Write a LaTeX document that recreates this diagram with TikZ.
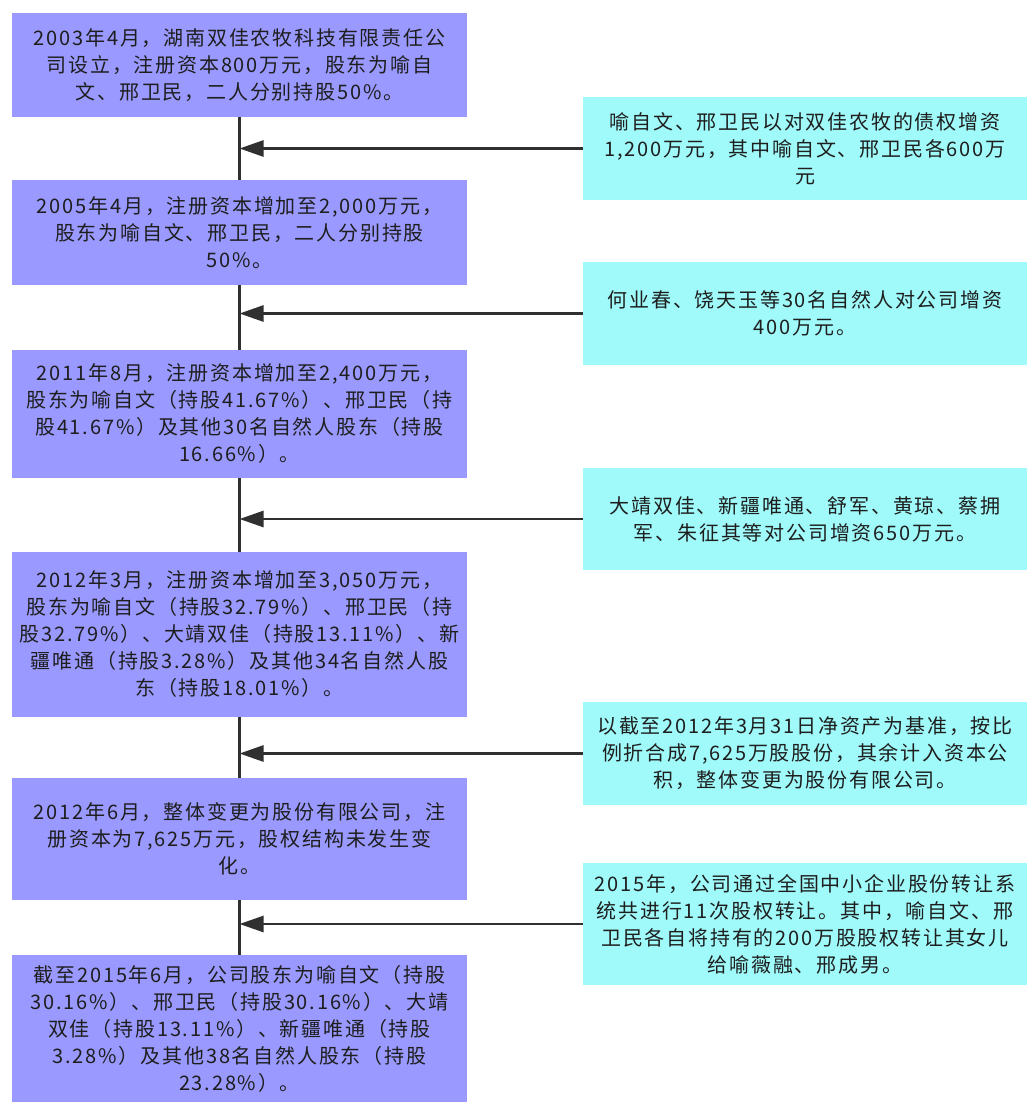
\documentclass[tikz,border=0pt]{standalone}
\usepackage{fontspec}
\usetikzlibrary{arrows.meta}
\newfontfamily\cjk[LetterSpace=9]{Noto Sans CJK SC}
\definecolor{leftfill}{RGB}{153,153,255}
\definecolor{rightfill}{RGB}{160,250,250}
\definecolor{linecol}{RGB}{48,48,48}
\definecolor{txtcol}{RGB}{30,30,30}
\begin{document}
\begin{tikzpicture}[x=1pt,y=-1pt,
  boxbase/.style={inner sep=0pt, align=center, text=txtcol,
    font={\cjk\fontsize{20}{27}\selectfont}},
  leftbox/.style={boxbase, fill=leftfill, minimum width=455pt},
  rightbox/.style={boxbase, fill=rightfill, minimum width=444pt},
  vline/.style={draw=linecol, line width=2.6pt},
  harrow/.style={draw=linecol, line width=2.6pt, -{Triangle[length=24pt,width=16pt]}}
]
\useasboundingbox (0,0) rectangle (1027,1102);
\fill[white] (0,0) rectangle (1027,1102);

% left column
\node[leftbox, minimum height=104pt] (L1) at (239.5,65)
  {2003年4月，湖南双佳农牧科技有限责任公\\司设立，注册资本800万元，股东为喻自\\文、邢卫民，二人分别持股50\%。};
\node[leftbox, minimum height=105pt] (L2) at (239.5,232.5)
  {2005年4月，注册资本增加至2,000万元，\\股东为喻自文、邢卫民，二人分别持股\\50\%。};
\node[leftbox, minimum height=128pt] (L3) at (239.5,414)
  {2011年8月，注册资本增加至2,400万元，\\股东为喻自文（持股41.67\%）、邢卫民（持\\股41.67\%）及其他30名自然人股东（持股\\16.66\%）。};
\node[leftbox, minimum height=165pt] (L4) at (239.5,634.5)
  {2012年3月，注册资本增加至3,050万元，\\股东为喻自文（持股32.79\%）、邢卫民（持\\股32.79\%）、大靖双佳（持股13.11\%）、新\\疆唯通（持股3.28\%）及其他34名自然人股\\东（持股18.01\%）。};
\node[leftbox, minimum height=122pt] (L5) at (239.5,839)
  {2012年6月，整体变更为股份有限公司，注\\册资本为7,625万元，股权结构未发生变\\化。};
\node[leftbox, minimum height=147pt] (L6) at (239.5,1028.5)
  {截至2015年6月，公司股东为喻自文（持股\\30.16\%）、邢卫民（持股30.16\%）、大靖\\双佳（持股13.11\%）、新疆唯通（持股\\3.28\%）及其他38名自然人股东（持股\\23.28\%）。};

% right column
\node[rightbox, minimum height=103pt] (R1) at (805,148.5)
  {喻自文、邢卫民以对双佳农牧的债权增资\\1,200万元，其中喻自文、邢卫民各600万\\元};
\node[rightbox, minimum height=103pt] (R2) at (805,313.5)
  {何业春、饶天玉等30名自然人对公司增资\\400万元。};
\node[rightbox, minimum height=102pt] (R3) at (805,519)
  {大靖双佳、新疆唯通、舒军、黄琼、蔡拥\\军、朱征其等对公司增资650万元。};
\node[rightbox, minimum height=103pt] (R4) at (805,753.5)
  {以截至2012年3月31日净资产为基准，按比\\例折合成7,625万股股份，其余计入资本公\\积，整体变更为股份有限公司。};
\node[rightbox, minimum height=122pt] (R5) at (805,924)
  {2015年，公司通过全国中小企业股份转让系\\统共进行11次股权转让。其中，喻自文、邢\\卫民各自将持有的200万股股权转让其女儿\\给喻薇融、邢成男。};

% vertical connectors
\draw[vline] (L1.south) -- (L2.north);
\draw[vline] (L2.south) -- (L3.north);
\draw[vline] (L3.south) -- (L4.north);
\draw[vline] (L4.south) -- (L5.north);
\draw[vline] (L5.south) -- (L6.north);

% horizontal arrows
\draw[harrow] (R1.west) -- (R1.west -| L1.south);
\draw[harrow] (R2.west) -- (R2.west -| L2.south);
\draw[harrow] (R3.west) -- (R3.west -| L3.south);
\draw[harrow] (R4.west) -- (R4.west -| L4.south);
\draw[harrow] (R5.west) -- (R5.west -| L5.south);
\end{tikzpicture}
\end{document}
